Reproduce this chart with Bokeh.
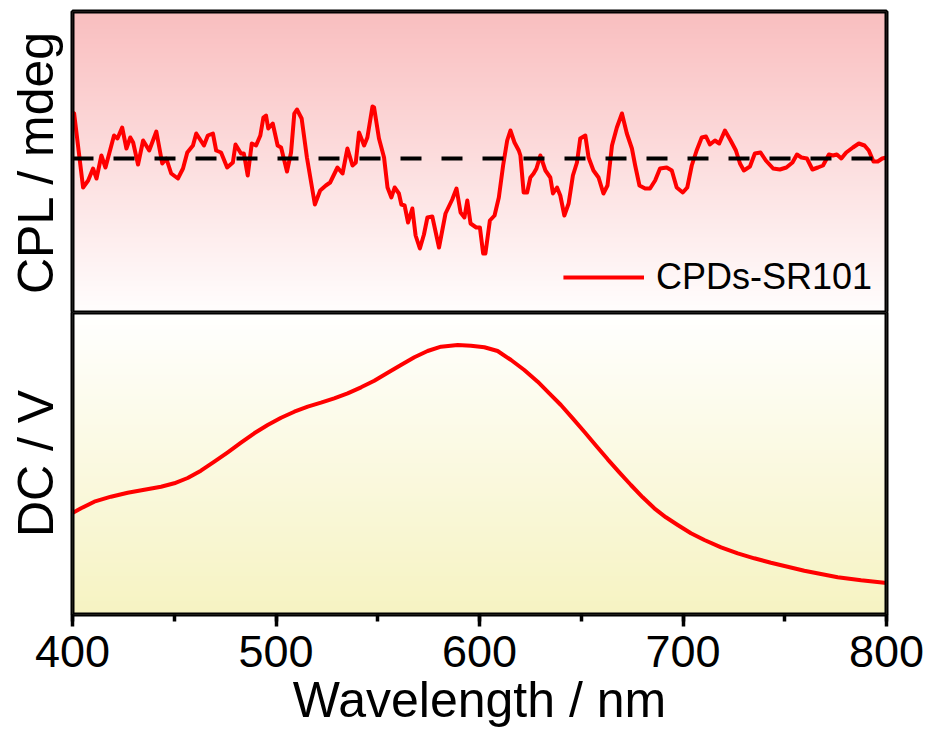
import numpy as np
from bokeh.plotting import figure
from bokeh.layouts import column
from bokeh.models import Range1d, FixedTicker, Span, SingleIntervalTicker, BoxAnnotation
from bokeh.embed import file_html
from bokeh.resources import INLINE

# ---------------- data ----------------
series_name = "CPDs-SR101"

wavelength_cpl = [
    400.0, 400.8, 405.2, 407.7, 410.1, 411.8, 414.2, 416.2, 420.4, 422.1,
    424.4, 426.5, 428.4, 429.8, 432.2, 434.7, 437.7, 441.2, 444.1, 446.1,
    448.5, 451.8, 454.3, 456.4, 459.2, 460.8, 464.6, 466.5, 469.0, 470.6,
    473.0, 476.0, 478.8, 480.1, 482.8, 484.2, 486.1, 488.1, 490.2, 492.3,
    493.8, 495.1, 496.2, 498.4, 500.8, 502.5, 505.4, 507.4, 509.0, 510.3,
    512.6, 515.2, 519.1, 521.7, 524.5, 526.6, 530.2, 532.7, 535.1, 537.6,
    539.2, 540.8, 543.3, 544.9, 547.4, 548.2, 550.6, 553.1, 554.8, 556.7,
    558.3, 560.4, 561.6, 563.2, 564.9, 567.0, 568.6, 570.7, 572.7, 574.4,
    576.8, 580.1, 583.3, 586.6, 588.7, 590.7, 592.6, 594.0, 595.6, 598.4,
    600.2, 601.8, 602.9, 605.1, 607.4, 609.5, 611.6, 613.6, 615.2, 617.2,
    619.3, 620.1, 621.7, 623.4, 625.0, 626.6, 628.0, 629.9, 632.4, 634.8,
    636.1, 638.1, 639.7, 641.7, 643.8, 645.9, 647.9, 649.5, 652.0, 653.6,
    656.0, 658.5, 660.9, 662.9, 665.1, 667.5, 670.0, 672.4, 674.9, 676.5,
    678.6, 681.4, 683.8, 686.3, 688.7, 692.0, 694.5, 696.9, 699.9, 702.1,
    704.3, 706.7, 709.2, 711.3, 713.2, 715.7, 717.8, 720.6, 723.4, 726.0,
    728.0, 729.9, 732.9, 735.3, 738.1, 740.7, 744.3, 747.6, 750.8, 753.8,
    756.0, 758.2, 760.9, 763.6, 766.3, 768.8, 771.7, 773.7, 775.6, 777.8,
    780.2, 783.5, 786.4, 789.2, 791.3, 793.6, 795.7, 797.9, 800.0,
]
cpl_mdeg = [
    2.30, 2.25, -1.45, -1.10, -0.50, -1.00, 0.15, -0.45, 1.15, 1.00,
    1.55, 0.50, 1.05, 0.80, -0.30, 0.90, 0.40, 1.35, -0.25, 0.00,
    -0.75, -1.00, -0.50, 0.30, 0.65, 1.25, 0.65, 1.15, 1.25, 0.40,
    0.30, -0.45, -0.20, 0.70, 0.25, 0.25, -0.85, 0.75, 0.65, 1.15,
    2.05, 2.15, 1.50, 1.75, 0.65, 0.55, -0.65, 0.30, 2.25, 2.45,
    2.00, 0.05, -2.30, -1.60, -1.35, -1.20, -0.45, -0.75, 0.50, -0.35,
    -0.20, 1.30, 0.65, 1.05, 2.60, 2.55, 1.00, 0.05, -1.45, -1.95,
    -1.45, -1.75, -2.30, -2.35, -3.20, -2.50, -3.85, -4.50, -3.80, -2.95,
    -2.90, -4.45, -2.75, -2.05, -1.50, -2.70, -2.95, -2.10, -3.25, -3.45,
    -3.45, -4.75, -4.75, -3.10, -2.85, -1.95, -0.35, 0.90, 1.40, 0.80,
    0.40, 0.15, -1.70, -1.70, -0.95, -0.75, -0.50, 0.15, -0.60, -0.95,
    -1.75, -1.45, -1.85, -2.85, -2.25, -0.85, -0.20, 1.00, 1.15, 0.05,
    -0.60, -0.95, -1.75, -1.35, 0.65, 1.55, 2.25, 1.25, 0.50, -0.35,
    -1.35, -1.50, -1.50, -1.10, -0.50, -0.45, -0.60, -1.45, -1.70, -1.45,
    -0.35, 0.40, 1.05, 1.10, 0.70, 0.90, 0.75, 1.40, 0.90, 0.40,
    -0.25, -0.60, -0.40, 0.25, 0.30, -0.10, -0.50, -0.55, -0.45, -0.20,
    0.20, 0.05, 0.00, -0.55, -0.45, -0.35, 0.20, 0.15, 0.20, 0.00,
    0.30, 0.55, 0.75, 0.65, 0.40, -0.15, -0.15, 0.00, 0.05,
]

wavelength_dc = [
    400.0, 404.2, 410.7, 418.9, 427.1, 435.3, 443.5, 450.0, 456.6, 463.1,
    469.7, 476.3, 482.8, 489.3, 495.9, 502.5, 509.0, 515.6, 522.1, 528.6,
    535.2, 541.8, 548.3, 554.9, 561.4, 568.0, 574.5, 581.1, 589.3, 595.8,
    602.4, 608.9, 615.5, 622.0, 628.6, 634.3, 640.0, 645.8, 651.5, 657.3,
    663.0, 668.7, 674.4, 680.2, 685.9, 691.6, 697.4, 703.9, 710.5, 718.7,
    726.9, 735.0, 743.2, 751.4, 759.6, 767.8, 776.0, 787.5, 798.9, 800.0,
]
dc_volt = [
    1.015, 1.062, 1.128, 1.178, 1.218, 1.248, 1.278, 1.312, 1.365, 1.438,
    1.528, 1.622, 1.718, 1.812, 1.895, 1.968, 2.028, 2.078, 2.118, 2.162,
    2.212, 2.272, 2.338, 2.418, 2.495, 2.572, 2.635, 2.678, 2.695, 2.688,
    2.672, 2.635, 2.545, 2.445, 2.328, 2.212, 2.095, 1.962, 1.828, 1.688,
    1.552, 1.422, 1.295, 1.172, 1.062, 0.972, 0.895, 0.812, 0.745, 0.672,
    0.612, 0.562, 0.518, 0.478, 0.438, 0.405, 0.372, 0.342, 0.318, 0.316,
]

FONT = "Liberation Sans"
RED = "#FF0000"


def gradient(c_bottom, c_top, n=302):
    t = np.linspace(0.0, 1.0, n)[:, None]
    cb = np.array(c_bottom, dtype=float)
    ct = np.array(c_top, dtype=float)
    img = np.empty((n, 2), dtype=np.uint32)
    view = img.view(dtype=np.uint8).reshape((n, 2, 4))
    for k in range(3):
        view[:, :, k] = np.round(cb[k] * (1 - t) + ct[k] * t).astype(np.uint8).repeat(2, axis=1)
    view[:, :, 3] = 255
    return img


def style_common(p, ylabel, xr, yr):
    p.grid.visible = False
    p.outline_line_color = "black"
    p.outline_line_width = 4
    p.outline_line_alpha = 1.0
    p.background_fill_color = "white"
    p.border_fill_color = "white"
    ax = p.yaxis[0]
    ax.ticker = FixedTicker(ticks=[], minor_ticks=[])
    ax.axis_label = ylabel
    ax.axis_label_text_font = FONT
    ax.axis_label_text_font_size = "50px"
    ax.axis_label_text_font_style = "normal"
    ax.axis_label_text_color = "black"
    ax.axis_label_standoff = 9
    ax.axis_line_color = None
    ax.major_tick_out = 0
    ax.major_tick_in = 0
    ax.minor_tick_out = 0
    ax.minor_tick_in = 0
    ax.major_label_standoff = 0
    # frame border drawn above the gradient image
    p.add_layout(BoxAnnotation(left=xr.start, right=xr.end, bottom=yr.start, top=yr.end,
                               fill_alpha=0, fill_color=None, line_color="black",
                               line_width=4, line_alpha=1.0, level="annotation"))


x_range = Range1d(400, 800)
cpl_range = Range1d(-7.7, 7.35)
dc_range = Range1d(0.0, 3.02)

# ---------------- top panel: CPL ----------------
p1 = figure(width=927, height=312, x_range=x_range, y_range=cpl_range,
            output_backend="svg", toolbar_location=None, x_axis_location=None,
            min_border_left=72, min_border_right=41, min_border_top=11,
            min_border_bottom=0)

p1.image_rgba(image=[gradient((255, 253, 253), (249, 190, 191))],
              x=x_range.start, y=cpl_range.start,
              dw=x_range.end - x_range.start, dh=cpl_range.end - cpl_range.start)
p1.line(wavelength_cpl, cpl_mdeg, line_color=RED, line_width=4,
        line_join="round", legend_label=series_name)
p1.add_layout(Span(location=0, dimension="width", line_color="black",
                   line_width=4, line_dash="21 20"))
style_common(p1, "CPL / mdeg", x_range, cpl_range)

lg = p1.legend[0]
lg.location = "bottom_right"
lg.border_line_color = None
lg.background_fill_alpha = 0
lg.label_text_font = FONT
lg.label_text_font_size = "36px"
lg.label_text_color = "black"
lg.glyph_width = 81
lg.glyph_height = 20
lg.label_standoff = 12
lg.padding = 0
lg.margin = 14
lg.spacing = 0

# ---------------- bottom panel: DC ----------------
p2 = figure(width=927, height=423, x_range=x_range, y_range=dc_range,
            output_backend="svg", toolbar_location=None,
            min_border_left=72, min_border_right=41, min_border_top=0,
            min_border_bottom=121)

p2.image_rgba(image=[gradient((246, 243, 194), (255, 255, 255))],
              x=x_range.start, y=dc_range.start,
              dw=x_range.end - x_range.start, dh=dc_range.end - dc_range.start)
p2.line(wavelength_dc, dc_volt, line_color=RED, line_width=4, line_join="round")
style_common(p2, "DC / V", x_range, dc_range)

xa = p2.xaxis[0]
xa.ticker = SingleIntervalTicker(interval=100, num_minor_ticks=2)
xa.axis_line_color = None
xa.major_tick_out = 12
xa.major_tick_in = 0
xa.minor_tick_out = 7
xa.minor_tick_in = 0
xa.major_tick_line_width = 3.5
xa.minor_tick_line_width = 3.5
xa.major_tick_line_color = "black"
xa.minor_tick_line_color = "black"
xa.major_label_text_font = FONT
xa.major_label_text_font_size = "45px"
xa.major_label_text_color = "black"
xa.major_label_standoff = 9
xa.axis_label = "Wavelength / nm"
xa.axis_label_text_font = FONT
xa.axis_label_text_font_size = "50px"
xa.axis_label_text_font_style = "normal"
xa.axis_label_text_color = "black"
xa.axis_label_standoff = 2

layout = column(p1, p2, spacing=0)
open("out.html", "w").write(file_html(layout, INLINE))
